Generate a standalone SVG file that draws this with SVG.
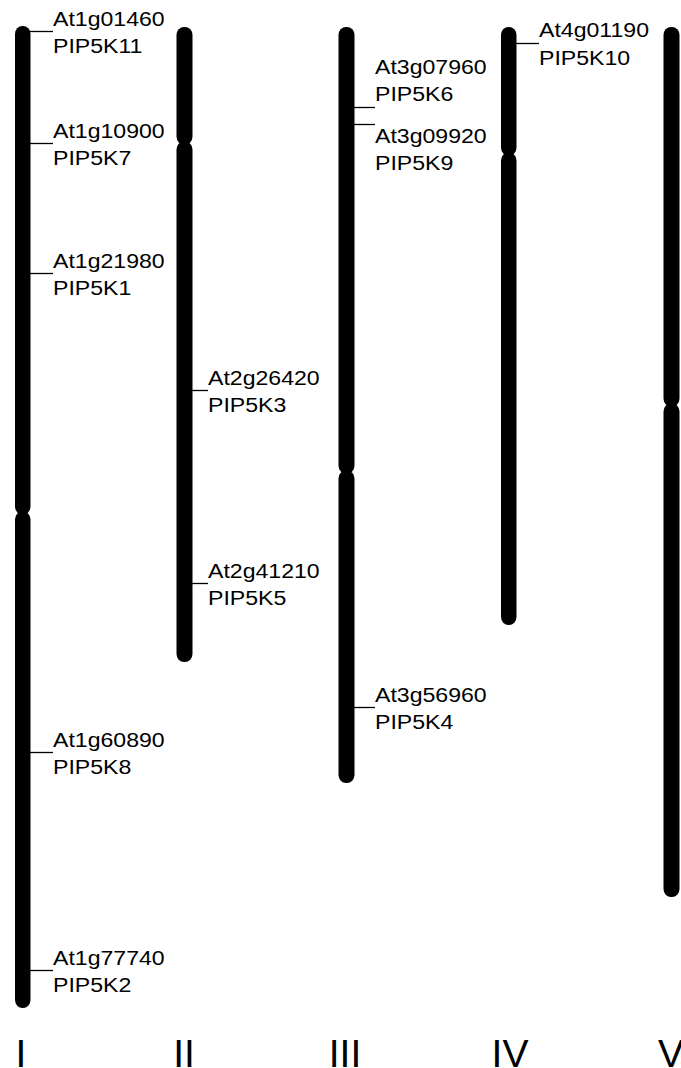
<svg xmlns="http://www.w3.org/2000/svg" width="681" height="1068" viewBox="0 0 681 1068">
  <style>
    .arm { fill: #000; }
    .lbl { font-family: "Liberation Sans", Arial, sans-serif; font-size: 21px; fill: #000; }
    .num { font-family: "Liberation Sans", Arial, sans-serif; font-size: 39px; fill: #000; text-anchor: middle; }
    .lead { stroke: #000; stroke-width: 1.3; fill: none; }
  </style>
  <rect width="681" height="1068" fill="#fff"/>

  <g id="chrI">
    <rect class="arm" x="15" y="26" width="15.5" height="488.5" rx="7.5" ry="8"/>
    <rect class="arm" x="15" y="511.5" width="15.5" height="496.5" rx="7.5" ry="8"/>
    <text class="num" x="21" y="1067">I</text>
  </g>
  <g id="chrII">
    <rect class="arm" x="176.5" y="27" width="16" height="117.5" rx="7.5" ry="8"/>
    <rect class="arm" x="176.5" y="141.5" width="16" height="520.5" rx="7.5" ry="8"/>
    <text class="num" x="184" y="1067">II</text>
  </g>
  <g id="chrIII">
    <rect class="arm" x="338.5" y="27" width="16" height="446.5" rx="7.5" ry="8"/>
    <rect class="arm" x="338.5" y="470.5" width="16" height="312.5" rx="7.5" ry="8"/>
    <text class="num" x="345" y="1067">III</text>
  </g>
  <g id="chrIV">
    <rect class="arm" x="501" y="27" width="15.5" height="128.5" rx="7.5" ry="8"/>
    <rect class="arm" x="501" y="152.5" width="15.5" height="472.5" rx="7.5" ry="8"/>
    <text class="num" x="510" y="1067">IV</text>
  </g>
  <g id="chrV">
    <rect class="arm" x="663.5" y="27" width="16" height="379.5" rx="7.5" ry="8"/>
    <rect class="arm" x="663.5" y="403.5" width="16" height="493.5" rx="7.5" ry="8"/>
    <text class="num" x="671" y="1067">V</text>
  </g>

  <g id="connectors">
    <line class="lead" x1="30" y1="31.5" x2="53" y2="31.5"/>
    <line class="lead" x1="30" y1="143.5" x2="53" y2="143.5"/>
    <line class="lead" x1="30" y1="273.5" x2="53" y2="273.5"/>
    <line class="lead" x1="30" y1="752.5" x2="53" y2="752.5"/>
    <line class="lead" x1="30" y1="970.5" x2="53" y2="970.5"/>
    <line class="lead" x1="192" y1="390.5" x2="208" y2="390.5"/>
    <line class="lead" x1="192" y1="583.5" x2="208" y2="583.5"/>
    <line class="lead" x1="354" y1="107.5" x2="375" y2="107.5"/>
    <line class="lead" x1="354" y1="124.5" x2="375" y2="124.5"/>
    <line class="lead" x1="354" y1="707.5" x2="375" y2="707.5"/>
    <line class="lead" x1="516" y1="43.5" x2="539" y2="43.5"/>
  </g>

  <g id="lbl-At1g01460" transform="translate(53,0) scale(1.1,1)"><text class="lbl" x="0" y="26">At1g01460</text><text class="lbl" x="0" y="53">PIP5K11</text></g>
  <g id="lbl-At1g10900" transform="translate(53,0) scale(1.1,1)"><text class="lbl" x="0" y="138">At1g10900</text><text class="lbl" x="0" y="165">PIP5K7</text></g>
  <g id="lbl-At1g21980" transform="translate(53,0) scale(1.1,1)"><text class="lbl" x="0" y="268">At1g21980</text><text class="lbl" x="0" y="295">PIP5K1</text></g>
  <g id="lbl-At1g60890" transform="translate(53,0) scale(1.1,1)"><text class="lbl" x="0" y="747">At1g60890</text><text class="lbl" x="0" y="774">PIP5K8</text></g>
  <g id="lbl-At1g77740" transform="translate(53,0) scale(1.1,1)"><text class="lbl" x="0" y="965">At1g77740</text><text class="lbl" x="0" y="992">PIP5K2</text></g>
  <g id="lbl-At2g26420" transform="translate(208,0) scale(1.1,1)"><text class="lbl" x="0" y="385">At2g26420</text><text class="lbl" x="0" y="412">PIP5K3</text></g>
  <g id="lbl-At2g41210" transform="translate(208,0) scale(1.1,1)"><text class="lbl" x="0" y="578">At2g41210</text><text class="lbl" x="0" y="605">PIP5K5</text></g>
  <g id="lbl-At3g07960" transform="translate(375,0) scale(1.1,1)"><text class="lbl" x="0" y="74">At3g07960</text><text class="lbl" x="0" y="101">PIP5K6</text></g>
  <g id="lbl-At3g09920" transform="translate(375,0) scale(1.1,1)"><text class="lbl" x="0" y="143">At3g09920</text><text class="lbl" x="0" y="170">PIP5K9</text></g>
  <g id="lbl-At3g56960" transform="translate(375,0) scale(1.1,1)"><text class="lbl" x="0" y="702">At3g56960</text><text class="lbl" x="0" y="729">PIP5K4</text></g>
  <g id="lbl-At4g01190" transform="translate(539,0) scale(1.1,1)"><text class="lbl" x="0" y="37">At4g01190</text><text class="lbl" x="0" y="65">PIP5K10</text></g>
</svg>
